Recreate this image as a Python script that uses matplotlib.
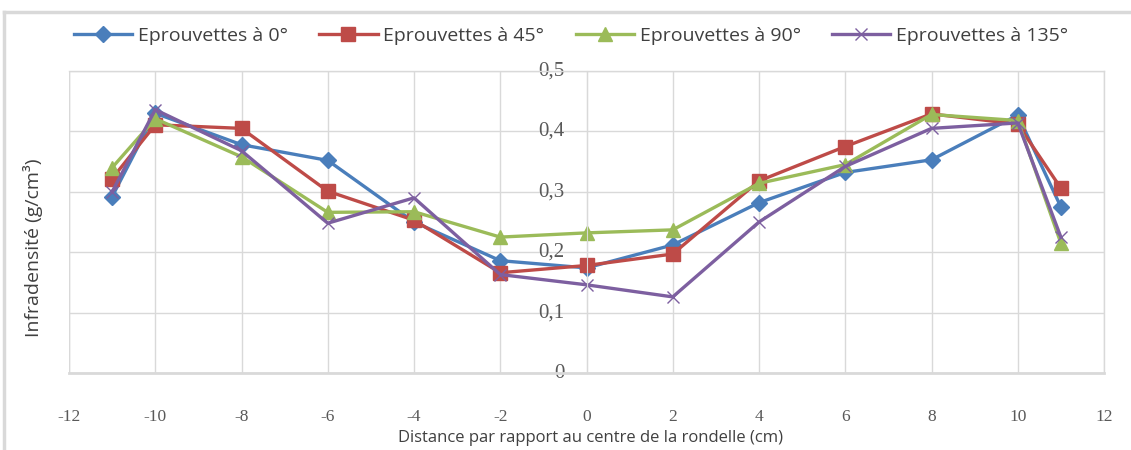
import matplotlib
matplotlib.use("Agg")
import matplotlib.pyplot as plt
from matplotlib.lines import Line2D

x = [-11, -10, -8, -6, -4, -2, 0, 2, 4, 6, 8, 10, 11]
s0 = [0.292, 0.430, 0.378, 0.352, 0.250, 0.186, 0.174, 0.212, 0.282, 0.332, 0.353, 0.427, 0.275]
s45 = [0.322, 0.411, 0.405, 0.301, 0.253, 0.166, 0.178, 0.197, 0.318, 0.375, 0.429, 0.412, 0.306]
s90 = [0.340, 0.421, 0.358, 0.266, 0.267, 0.225, 0.232, 0.237, 0.314, 0.345, 0.428, 0.418, 0.215]
s135 = [0.300, 0.436, 0.368, 0.248, 0.290, 0.163, 0.146, 0.126, 0.250, 0.342, 0.405, 0.414, 0.225]
labels = ["Eprouvettes à 0°", "Eprouvettes à 45°", "Eprouvettes à 90°", "Eprouvettes à 135°"]
xticks = list(range(-12, 13, 2))
yticks = [0, 0.1, 0.2, 0.3, 0.4, 0.5]
ytick_labels = ["0", "0,1", "0,2", "0,3", "0,4", "0,5"]

sans = ["Liberation Sans Narrow", "Open Sans", "DejaVu Sans"]
serif = ["Liberation Serif", "DejaVu Serif"]

fig = plt.figure(figsize=(11.31, 4.5), dpi=100)
ax = fig.add_axes([69/1131, 1-373/450, (1104-69)/1131, (373-71)/450])

ax.spines["left"].set_position(("data", 0))

styles = [
    dict(color="#4A7EBB", marker="D", ms=8),
    dict(color="#BE4B48", marker="s", ms=10),
    dict(color="#9BBB59", marker="^", ms=10),
    dict(color="#7D5FA0", marker="x", ms=9, mew=1.0),
]
handles = []
for ys, st, lab in zip([s0, s45, s90, s135], styles, labels):
    ln, = ax.plot(x, ys, lw=2.4, label=lab, **st)
    handles.append(ln)

ax.set_xlim(-12, 12)
ax.set_ylim(0, 0.5)
ax.set_xticks(xticks)
ax.set_xticklabels([str(v) for v in xticks])
ax.set_yticks(yticks)
ax.set_yticklabels(ytick_labels)
ax.tick_params(axis="x", length=0, pad=26, labelsize=12.5, labelcolor="#595959")
ax.tick_params(axis="y", length=0, pad=16, labelsize=15, labelcolor="#595959")
for t in ax.get_xticklabels() + ax.get_yticklabels():
    t.set_fontfamily(serif)
for t in ax.get_yticklabels():
    t.set_verticalalignment("center")
ax.grid(True, color="#D9D9D9", lw=1.0)
ax.set_axisbelow(True)
for sp in ["top", "right"]:
    ax.spines[sp].set_color("#D9D9D9")
    ax.spines[sp].set_linewidth(1.0)
ax.spines["left"].set_color("#D9D9D9")
ax.spines["bottom"].set_color("#D9D9D9")
ax.spines["bottom"].set_linewidth(2.0)
ax.axvline(-12, color="#D9D9D9", lw=1.0, zorder=0)

fig.text(590/1131, 1-438/450, "Distance par rapport au centre de la rondelle (cm)",
         ha="center", va="center", fontfamily=sans, fontsize=12, color="#404040")
fig.text(33/1131, 1-248/450, "Infradensité (g/cm³)", rotation=90,
         ha="center", va="center", fontfamily=sans, fontsize=14, color="#404040")

leg = fig.legend(handles=handles, loc="center", bbox_to_anchor=(0.505, 1-36/450), ncol=4,
                 frameon=False, prop={"family": sans, "size": 14}, handlelength=3.0,
                 columnspacing=1.6, handletextpad=0.3, labelcolor="#404040")

fig.add_artist(Line2D([4/1131, 1], [1-12/450, 1-12/450], color="#D9D9D9", lw=2.5, transform=fig.transFigure))
fig.add_artist(Line2D([4/1131, 4/1131], [0, 1-12/450], color="#D9D9D9", lw=2.5, transform=fig.transFigure))

fig.savefig("out.png", dpi=100)
